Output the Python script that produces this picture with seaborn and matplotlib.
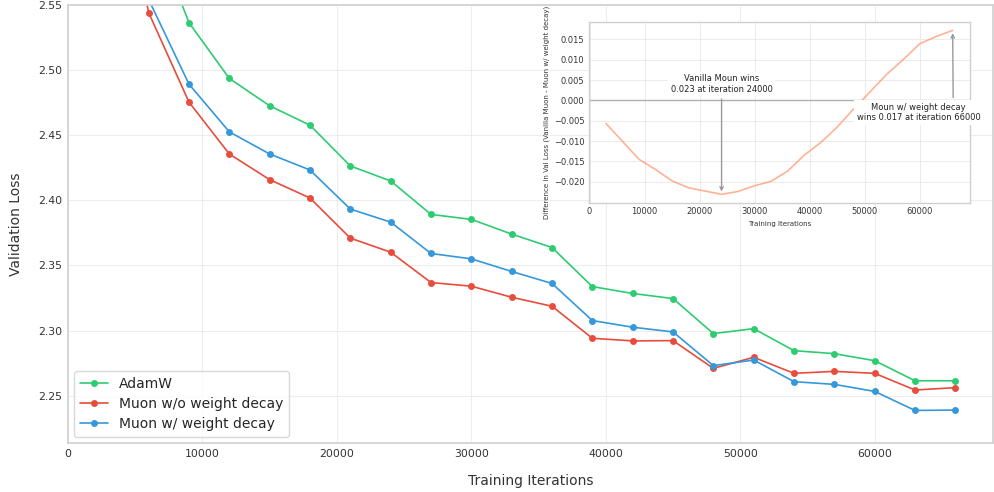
import matplotlib
matplotlib.use("Agg")
import matplotlib.pyplot as plt
import numpy as np
import pandas as pd
import seaborn as sns

# ---- data ----
iterations = [3000, 6000, 9000, 12000, 15000, 18000, 21000, 24000, 27000, 30000, 33000,
              36000, 39000, 42000, 45000, 48000, 51000, 54000, 57000, 60000, 63000, 66000]
adamw = [2.740, 2.616, 2.5364, 2.4936, 2.4726, 2.4577, 2.4264, 2.4149, 2.3892, 2.3854, 2.3741,
         2.3638, 2.3338, 2.3285, 2.3246, 2.2977, 2.3015, 2.2846, 2.2823, 2.2769, 2.2615, 2.2615]
muon_no_wd = [2.695, 2.5441, 2.4754, 2.4356, 2.4159, 2.4018, 2.3710, 2.3602, 2.3369, 2.3341, 2.3256,
              2.3187, 2.2941, 2.2921, 2.2923, 2.2710, 2.2795, 2.2672, 2.2687, 2.2672, 2.2544, 2.2562]
muon_wd = [2.7007, 2.5542, 2.4892, 2.4526, 2.4356, 2.4233, 2.3933, 2.3833, 2.3592, 2.3551, 2.3454,
           2.3362, 2.3077, 2.3026, 2.2990, 2.2731, 2.2774, 2.2608, 2.2587, 2.2533, 2.2387, 2.2390]
diff_vals = [-0.0057, -0.0101, -0.0145, -0.0170, -0.0198, -0.0215, -0.0223, -0.0231, -0.0224, -0.0210, -0.0199,
             -0.0174, -0.0135, -0.0104, -0.0066, -0.0021, 0.0021, 0.0064, 0.0100, 0.0139, 0.0157, 0.0172]
series_names = ["AdamW", "Muon w/o weight decay", "Muon w/ weight decay"]
series_colors = ["#2ecc71", "#e74c3c", "#3498db"]

sns.set_theme(style="whitegrid")
plt.rcParams["font.family"] = ["DejaVu Sans"]

fig = plt.figure(figsize=(9.94, 4.92), dpi=100)
ax = fig.add_axes([68 / 994, 1 - 443 / 492, 925 / 994, 438 / 492])

for name, vals, col in zip(series_names, [adamw, muon_no_wd, muon_wd], series_colors):
    sns.lineplot(x=iterations, y=vals, ax=ax, color=col, marker="o", markersize=5,
                 markeredgecolor=col, markeredgewidth=0, linewidth=1.2, label=name)

ax.set_xlim(0, 68800)
ax.set_ylim(2.2137, 2.55)
ax.set_xticks([0, 10000, 20000, 30000, 40000, 50000, 60000])
ax.set_yticks([2.25, 2.30, 2.35, 2.40, 2.45, 2.50, 2.55])
ax.set_yticklabels(["2.25", "2.30", "2.35", "2.40", "2.45", "2.50", "2.55"])
ax.tick_params(axis="both", labelsize=7.8, colors="#333333", length=0, pad=4)
ax.set_xlabel("Training Iterations", fontsize=10, labelpad=11, color="#333333")
ax.set_ylabel("Validation Loss", fontsize=10, labelpad=11, color="#333333")
ax.grid(True, color="#e6e6e6", linewidth=0.8, alpha=0.7)
for s in ax.spines.values():
    s.set_color("#d0d0d0")
    s.set_linewidth(1.2)
leg = ax.legend(loc="lower left", fontsize=10, frameon=True, borderpad=0.4,
                handlelength=2.0, labelspacing=0.45, borderaxespad=0.45)
leg.get_frame().set_edgecolor("#d0d0d0")

# ---- inset ----
ins = fig.add_axes([588.7 / 994, 1 - 202.5 / 492, 381.3 / 994, 180.3 / 492])
sns.lineplot(x=iterations, y=diff_vals, ax=ins, color="#ff8a5c", alpha=0.65, linewidth=1.2)
ins.axhline(0, color="#b0b0b0", linewidth=1.0, zorder=1)
ins.set_xticks([0, 10000, 20000, 30000, 40000, 50000, 60000])
ins.set_yticks([-0.020, -0.015, -0.010, -0.005, 0.000, 0.005, 0.010, 0.015])
ins.set_yticklabels(["\u22120.020", "\u22120.015", "\u22120.010", "\u22120.005", "0.000", "0.005", "0.010", "0.015"])
ins.tick_params(axis="both", labelsize=6, colors="#333333", length=0, pad=3)
ins.set_xlabel("Training Iterations", fontsize=5, color="#333333", labelpad=4)
ins.set_ylabel("Difference in Val Loss (Vanilla Muon - Muon w/ weight decay)", fontsize=5, color="#333333", labelpad=3)
ins.grid(True, color="#e6e6e6", linewidth=0.7, alpha=0.8)
for s in ins.spines.values():
    s.set_color("#d0d0d0")
    s.set_linewidth(1.0)

ins.annotate("Vanilla Moun wins\n0.023 at iteration 24000", xy=(24000, -0.0231),
             xytext=(24000, 0.0040), ha="center", va="center", fontsize=6, color="#222222",
             bbox=dict(boxstyle="square,pad=0.3", fc="white", ec="none"),
             arrowprops=dict(arrowstyle="->", color="#999999", lw=1.0))
ins.annotate("Moun w/ weight decay\nwins 0.017 at iteration 66000", xy=(66000, 0.0172),
             xytext=(59800, -0.0030), ha="center", va="center", fontsize=6, color="#222222",
             bbox=dict(boxstyle="square,pad=0.3", fc="white", ec="none"),
             arrowprops=dict(arrowstyle="->", color="#999999", lw=1.0,
                             relpos=(0.78, 1.0)),
             annotation_clip=False)

fig.savefig("out.png", dpi=100)
